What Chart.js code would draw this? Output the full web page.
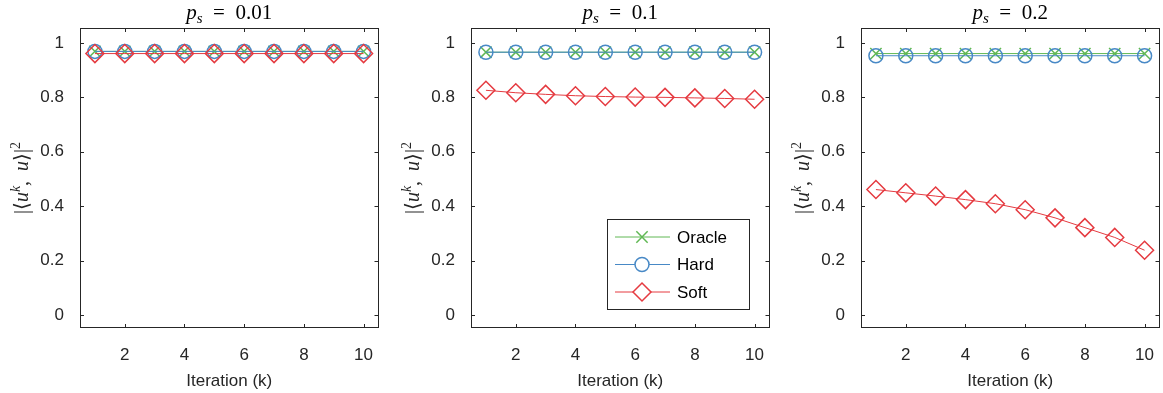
<!DOCTYPE html>
<html><head><meta charset="utf-8">
<script src="https://cdn.jsdelivr.net/npm/chart.js@4.4.0/dist/chart.umd.min.js"></script>
<style>
html,body{margin:0;padding:0;background:#fff;}
body{width:1163px;height:393px;position:relative;overflow:hidden;}
.p{position:absolute;top:0;width:389px;height:393px;}
</style></head><body>
<div class="p" style="left:0px"><canvas id="c0" width="389" height="393"></canvas></div>
<div class="p" style="left:391px"><canvas id="c1" width="389" height="393"></canvas></div>
<div class="p" style="left:781px"><canvas id="c2" width="389" height="393"></canvas></div>
<script>
// ---- data ----
const iterations = [1, 2, 3, 4, 5, 6, 7, 8, 9, 10];
const psValues = ['0.01', '0.1', '0.2'];
const seriesNames = ['Oracle', 'Hard', 'Soft'];
const xTicks = [2, 4, 6, 8, 10];
const yTicks = [0, 0.2, 0.4, 0.6, 0.8, 1];

const oracle001 = [0.969, 0.969, 0.969, 0.969, 0.969, 0.969, 0.969, 0.969, 0.969, 0.969];
const hard001   = [0.969, 0.969, 0.969, 0.969, 0.969, 0.969, 0.969, 0.969, 0.969, 0.969];
const soft001   = [0.961, 0.961, 0.961, 0.961, 0.961, 0.961, 0.961, 0.961, 0.961, 0.961];

const oracle01 = [0.966, 0.966, 0.966, 0.966, 0.966, 0.966, 0.966, 0.966, 0.966, 0.966];
const hard01   = [0.966, 0.966, 0.966, 0.966, 0.966, 0.966, 0.966, 0.966, 0.966, 0.966];
const soft01   = [0.826, 0.817, 0.811, 0.806, 0.803, 0.801, 0.800, 0.798, 0.796, 0.793];

const oracle02 = [0.961, 0.961, 0.961, 0.961, 0.961, 0.961, 0.961, 0.961, 0.961, 0.961];
const hard02   = [0.953, 0.953, 0.953, 0.953, 0.953, 0.953, 0.953, 0.953, 0.953, 0.953];
const soft02   = [0.461, 0.449, 0.437, 0.424, 0.409, 0.387, 0.357, 0.321, 0.285, 0.238];

const panels = [
  [oracle001, hard001, soft001],
  [oracle01, hard01, soft01],
  [oracle02, hard02, soft02]
];

// ---- styles ----
const AX = '#262626';
const COLORS = ['rgb(96,184,84)', 'rgb(72,137,198)', 'rgb(229,58,64)'];
const STYLES = [
  {pointStyle: 'crossRot', radius: 8, order: 3},
  {pointStyle: 'circle', radius: 7, order: 2},
  {pointStyle: 'rectRot', radius: 9, order: 1}
];
const SANS = '"Liberation Sans", Arial, Helvetica, sans-serif';
const SERIF = '"Liberation Serif", "DejaVu Serif", serif';
const AREA_RIGHT = 378;

function drawRuns(ctx, runs, x, y) {
  let cx = x;
  for (const r of runs) {
    ctx.font = r[1];
    ctx.fillText(r[0], cx, y + r[2]);
    cx += ctx.measureText(r[0]).width;
  }
}
function runsWidth(ctx, runs) {
  let w = 0;
  for (const r of runs) { ctx.font = r[1]; w += ctx.measureText(r[0]).width; }
  return w;
}

const framePlugin = {
  id: 'frame',
  afterDatasetsDraw(chart, args, opts) {
    const {ctx, chartArea: a, scales} = chart;
    ctx.save();
    ctx.strokeStyle = AX;
    ctx.lineWidth = 1;
    ctx.strokeRect(Math.round(a.left) + 0.5, Math.round(a.top) + 0.5,
                   Math.round(a.right - a.left) - 1, Math.round(a.bottom - a.top) - 1);
    ctx.beginPath();
    const tl = 4;
    for (const v of yTicks) {
      const py = Math.round(scales.y.getPixelForValue(v)) + 0.5;
      ctx.moveTo(a.left, py); ctx.lineTo(a.left + tl, py);
      ctx.moveTo(a.right, py); ctx.lineTo(a.right - tl, py);
    }
    for (const v of xTicks) {
      const px = Math.round(scales.x.getPixelForValue(v)) + 0.5;
      ctx.moveTo(px, a.bottom); ctx.lineTo(px, a.bottom - tl);
      ctx.moveTo(px, a.top); ctx.lineTo(px, a.top + tl);
    }
    ctx.stroke();

    // title  p_s = value
    ctx.fillStyle = '#000';
    ctx.textBaseline = 'alphabetic';
    const titleRuns = [
      ['p', 'italic 21px ' + SERIF, 0],
      ['s', 'italic 15px ' + SERIF, 4],
      ['\u2002=\u2002' + opts.ps, '21px ' + SERIF, 0]
    ];
    const tw = runsWidth(ctx, titleRuns);
    drawRuns(ctx, titleRuns, (a.left + a.right) / 2 - tw / 2, 19);

    // y label |<u^k, u>|^2
    const yRuns = [
      ['|\u27E8', '20px ' + SERIF, 0],
      ['u', 'italic 20px ' + SERIF, 0],
      ['k', 'italic 14px ' + SERIF, -8],
      [',\u2002', '20px ' + SERIF, 0],
      ['u', 'italic 20px ' + SERIF, 0],
      ['\u27E9|', '20px ' + SERIF, 0],
      ['2', '14px ' + SERIF, -8]
    ];
    const yw = runsWidth(ctx, yRuns);
    ctx.translate(a.left - 52, (a.top + a.bottom) / 2);
    ctx.rotate(-Math.PI / 2);
    ctx.fillStyle = AX;
    drawRuns(ctx, yRuns, -yw / 2, 0);
    ctx.restore();

    // legend
    if (opts.legend) {
      ctx.save();
      const bw = 142, bh = 90;
      const bx = Math.round(a.right - 21 - bw), by = Math.round(a.bottom - 19 - bh);
      ctx.fillStyle = '#fff';
      ctx.fillRect(bx, by, bw, bh);
      ctx.strokeStyle = AX;
      ctx.lineWidth = 1;
      ctx.strokeRect(bx + 0.5, by + 0.5, bw, bh);
      chart.data.datasets.forEach((ds, i) => {
        const ry = by + 18 + i * 27.5;
        ctx.strokeStyle = ds.borderColor;
        ctx.lineWidth = 1;
        ctx.beginPath();
        ctx.moveTo(bx + 8, ry); ctx.lineTo(bx + 63, ry);
        ctx.stroke();
        ctx.fillStyle = '#fff';
        ctx.lineWidth = 1.5;
        Chart.helpers.drawPoint(ctx, {pointStyle: ds.pointStyle, radius: ds.pointRadius, borderWidth: 1.5, rotation: 0}, bx + 35, ry);
        ctx.fillStyle = '#000';
        ctx.font = '17px ' + SANS;
        ctx.textBaseline = 'middle';
        ctx.fillText(ds.label, bx + 70, ry + 1);
      });
      ctx.restore();
    }
  }
};

function makeChart(idx) {
  const series = panels[idx];
  const datasets = series.map((vals, i) => ({
    label: seriesNames[i],
    data: iterations.map((x, j) => ({x: x, y: vals[j]})),
    borderColor: COLORS[i],
    backgroundColor: 'rgba(0,0,0,0)',
    borderWidth: 1,
    pointStyle: STYLES[i].pointStyle,
    pointRadius: STYLES[i].radius,
    pointBorderWidth: 1.5,
    pointBorderColor: COLORS[i],
    pointBackgroundColor: 'rgba(0,0,0,0)',
    pointHoverRadius: STYLES[i].radius,
    order: STYLES[i].order,
    tension: 0,
    clip: false
  }));
  const chart = new Chart(document.getElementById('c' + idx), {
    type: 'line',
    data: {datasets},
    options: {
      responsive: false,
      animation: false,
      devicePixelRatio: 1,
      layout: {padding: {top: 28, right: 5, left: 0, bottom: 0}},
      plugins: {
        legend: {display: false},
        tooltip: {enabled: false},
        frame: {ps: psValues[idx], legend: idx === 1}
      },
      scales: {
        x: {
          type: 'linear', min: 0.5, max: 10.5,
          afterBuildTicks: s => { s.ticks = xTicks.map(v => ({value: v})); },
          afterFit: s => { s.height = 65; s.paddingLeft = 0; s.paddingRight = 0; },
          grid: {display: false}, border: {display: false},
          ticks: {color: AX, font: {family: SANS, size: 17}, padding: 9, maxRotation: 0,
                  callback: v => String(v)},
          title: {display: true, text: 'Iteration (k)', color: AX,
                  font: {family: SANS, size: 17}, padding: {top: 0, bottom: 1}}
        },
        y: {
          type: 'linear', min: -0.048, max: 1.055,
          afterBuildTicks: s => { s.ticks = yTicks.map(v => ({value: v})); },
          afterFit: s => { s.width = 80; s.paddingTop = 0; s.paddingBottom = 0; },
          grid: {display: false}, border: {display: false},
          ticks: {color: AX, font: {family: SANS, size: 17}, padding: 8,
                  callback: v => String(v)}
        }
      }
    },
    plugins: [framePlugin]
  });
  const diff = chart.chartArea.right - AREA_RIGHT;
  if (Math.abs(diff) > 0.5) {
    chart.options.layout.padding.right = 5 + diff;
    chart.update();
  }
}
[0, 1, 2].forEach(makeChart);
</script>
</body></html>
